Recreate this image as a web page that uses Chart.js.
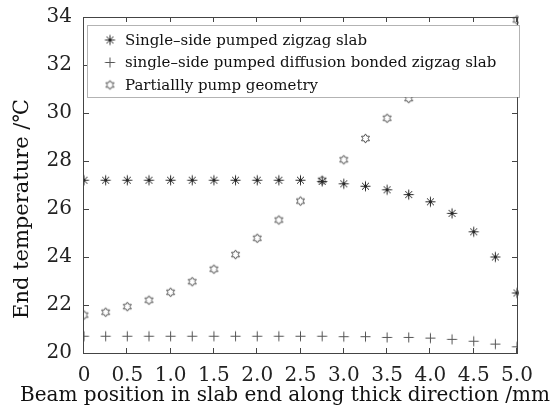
<!DOCTYPE html>
<html lang="en">
<head>
  <meta charset="UTF-8">
  <title>End temperature vs beam position</title>
  <script src="https://cdn.jsdelivr.net/npm/chart.js"></script>
  <style>
    body {
      margin: 0;
      padding: 0;
      background-color: white;
    }
    #chartContainer {
      width: 558px;
      height: 405px;
    }
  </style>
</head>
<body>

  <div id="chartContainer">
    <canvas id="tempChart" width="558" height="405"></canvas>
  </div>

  <script>
    // beam position along thick direction (mm)
    const beamPositions = [0, 0.25, 0.5, 0.75, 1.0, 1.25, 1.5, 1.75, 2.0, 2.25, 2.5,
                           2.75, 3.0, 3.25, 3.5, 3.75, 4.0, 4.25, 4.5, 4.75, 5.0];

    // end temperature (℃)
    const zigzagTemps = [27.2, 27.2, 27.2, 27.2, 27.2, 27.2, 27.2, 27.2, 27.2, 27.2, 27.2,
                         27.15, 27.05, 26.95, 26.8, 26.6, 26.3, 25.82, 25.05, 24.0, 22.5];
    const bondedTemps = [20.7, 20.7, 20.7, 20.7, 20.7, 20.7, 20.7, 20.7, 20.7, 20.7, 20.7,
                         20.7, 20.68, 20.68, 20.65, 20.65, 20.62, 20.57, 20.49, 20.37, 20.26];
    const partialTemps = [21.58, 21.7, 21.93, 22.2, 22.53, 22.97, 23.49, 24.1, 24.78, 25.54, 26.33,
                          27.2, 28.05, 28.94, 29.78, 30.6, 31.38, 32.1, 32.75, 33.35, 33.88];

    const seriesNames = [
      'Single\u2013side pumped zigzag slab',
      'single\u2013side pumped diffusion bonded zigzag slab',
      'Partiallly pump geometry'
    ];

    const xTickLabels = ['0', '0.5', '1.0', '1.5', '2.0', '2.5', '3.0', '3.5', '4.0', '4.5', '5.0'];
    const yTickLabels = ['20', '22', '24', '26', '28', '30', '32', '34'];

    const xTitle = 'Beam position in slab end along thick direction /mm';
    const yTitle = 'End temperature /\u2103';

    const serif = '"DejaVu Serif", "Liberation Serif", serif';

    // marker images (asterisk, plus, hexagram) like the matlab ones
    function makeMarker(kind, color) {
      const c = document.createElement('canvas');
      c.width = 13;
      c.height = 13;
      const g = c.getContext('2d');
      g.strokeStyle = color;
      g.lineWidth = 1;
      g.translate(6.5, 6.5);
      g.beginPath();
      if (kind === 'asterisk') {
        g.moveTo(0, -5); g.lineTo(0, 5);
        g.moveTo(-5, 0); g.lineTo(5, 0);
        g.moveTo(-3.5, -3.5); g.lineTo(3.5, 3.5);
        g.moveTo(-3.5, 3.5); g.lineTo(3.5, -3.5);
      } else if (kind === 'plus') {
        g.moveTo(0, -5); g.lineTo(0, 5);
        g.moveTo(-5, 0); g.lineTo(5, 0);
      } else {
        const R = 4.6, r = R / Math.sqrt(3);
        for (let i = 0; i < 12; i++) {
          const ang = -Math.PI / 2 + i * Math.PI / 6;
          const rad = i % 2 === 0 ? R : r;
          const px = rad * Math.cos(ang), py = rad * Math.sin(ang);
          if (i === 0) g.moveTo(px, py); else g.lineTo(px, py);
        }
        g.closePath();
      }
      g.stroke();
      return c;
    }

    const markers = [
      makeMarker('asterisk', '#2a2a2a'),
      makeMarker('plus', '#555'),
      makeMarker('hexagram', '#555')
    ];

    function toPoints(values) {
      return beamPositions.map((x, i) => ({x: x, y: values[i]}));
    }

    // box, inward ticks, titles and the legend drawn over the data
    const framePlugin = {
      id: 'frame',
      afterDatasetsDraw(chart) {
        const {ctx, chartArea: a, scales: {x, y}} = chart;
        ctx.save();
        ctx.strokeStyle = '#444';
        ctx.lineWidth = 1;
        ctx.strokeRect(a.left - 0.5, a.top + 0.5, a.right - a.left + 1, a.bottom - a.top);

        ctx.beginPath();
        x.ticks.forEach(t => {
          const px = Math.round(x.getPixelForValue(t.value)) - 0.5;
          ctx.moveTo(px, a.bottom); ctx.lineTo(px, a.bottom - 5);
          ctx.moveTo(px, a.top); ctx.lineTo(px, a.top + 5);
        });
        y.ticks.forEach(t => {
          const py = Math.round(y.getPixelForValue(t.value)) + 0.5;
          ctx.moveTo(a.left, py); ctx.lineTo(a.left + 5, py);
          ctx.moveTo(a.right, py); ctx.lineTo(a.right - 5, py);
        });
        ctx.stroke();

        // legend box
        const lx = a.left + 3, ly = a.top + 8, lw = a.right - a.left - 1, lh = 72;
        ctx.fillStyle = 'white';
        ctx.fillRect(lx, ly, lw, lh);
        ctx.strokeStyle = '#666';
        ctx.setLineDash([1, 1]);
        ctx.strokeRect(lx + 0.5, ly + 0.5, lw, lh);
        ctx.setLineDash([]);

        ctx.font = '15px ' + serif;
        ctx.fillStyle = '#111';
        ctx.textBaseline = 'middle';
        ctx.textAlign = 'left';
        seriesNames.forEach((name, i) => {
          const rowY = ly + 15 + i * 22.5;
          ctx.drawImage(markers[i], lx + 23 - 6.5, rowY - 6.5);
          ctx.fillText(name, lx + 38, rowY + 1);
        });

        // axis titles
        ctx.fillStyle = '#111';
        ctx.textAlign = 'center';
        ctx.font = '20px ' + serif;
        ctx.fillText(xTitle, 285, 396);
        ctx.translate(23, 209);
        ctx.rotate(-Math.PI / 2);
        ctx.font = '21px ' + serif;
        ctx.fillText(yTitle, 0, 0);
        ctx.restore();
      }
    };

    const ctx = document.getElementById('tempChart').getContext('2d');
    const tempChart = new Chart(ctx, {
      type: 'scatter',
      data: {
        datasets: [
          {
            label: seriesNames[0],
            data: toPoints(zigzagTemps),
            pointStyle: markers[0],
            borderColor: '#2a2a2a',
            clip: {left: 0, top: 4, right: 2, bottom: 0}
          },
          {
            label: seriesNames[1],
            data: toPoints(bondedTemps),
            pointStyle: markers[1],
            borderColor: '#555',
            clip: {left: 0, top: 4, right: 0, bottom: 0}
          },
          {
            label: seriesNames[2],
            data: toPoints(partialTemps),
            pointStyle: markers[2],
            borderColor: '#555',
            clip: {left: 0, top: 4, right: 2, bottom: 0}
          }
        ]
      },
      options: {
        responsive: false,
        animation: false,
        events: [],
        layout: {
          padding: {left: 0, right: 41, top: 17, bottom: 0}
        },
        plugins: {
          legend: {display: false},
          tooltip: {enabled: false}
        },
        scales: {
          x: {
            type: 'linear',
            min: 0,
            max: 5,
            grid: {display: false},
            border: {display: false},
            afterFit: scale => { scale.height = 52; },
            ticks: {
              stepSize: 0.5,
              padding: 3,
              color: '#222',
              font: {family: serif, size: 20},
              maxRotation: 0,
              callback: (v, i) => xTickLabels[i]
            }
          },
          y: {
            min: 20,
            max: 34,
            grid: {display: false},
            border: {display: false},
            afterFit: scale => { scale.width = 84; },
            ticks: {
              stepSize: 2,
              padding: 4,
              color: '#222',
              font: {family: serif, size: 20},
              callback: (v, i) => yTickLabels[i]
            }
          }
        }
      },
      plugins: [framePlugin]
    });
  </script>
</body>
</html>
